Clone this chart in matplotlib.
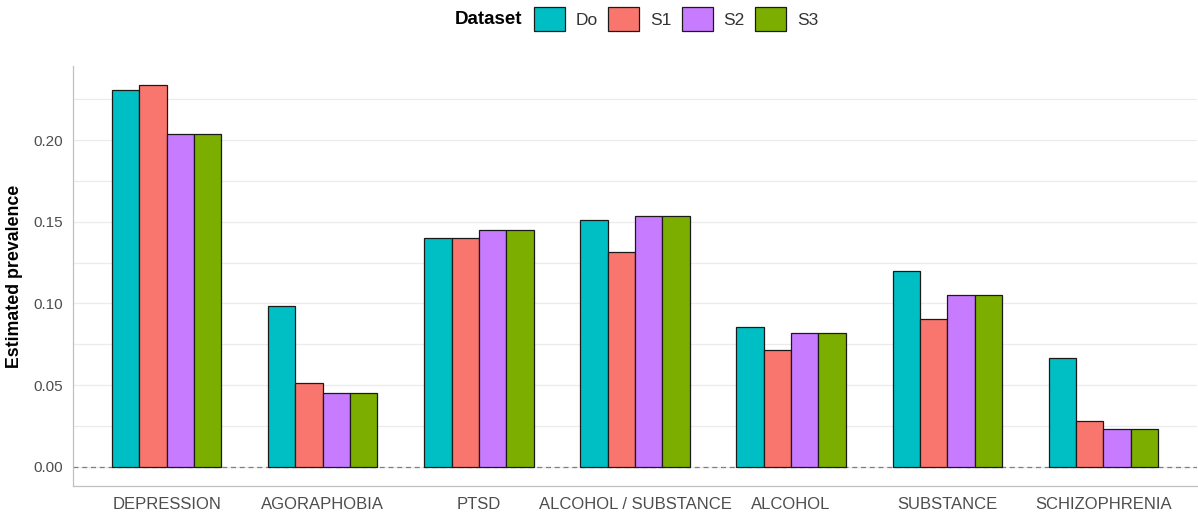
import matplotlib.pyplot as plt
import numpy as np
from matplotlib.patches import Patch

plt.rcParams["font.family"] = ["Liberation Sans", "DejaVu Sans"]

CATEGORIES = ["DEPRESSION", "AGORAPHOBIA", "PTSD", "ALCOHOL / SUBSTANCE",
              "ALCOHOL", "SUBSTANCE", "SCHIZOPHRENIA"]
DATASETS = ["Do", "S1", "S2", "S3"]
DO = [0.2303, 0.0983, 0.1403, 0.1513, 0.0853, 0.1196, 0.0669]
S1 = [0.2336, 0.0515, 0.1403, 0.1315, 0.0716, 0.0902, 0.0281]
S2 = [0.2036, 0.0454, 0.1452, 0.1534, 0.0818, 0.1053, 0.0232]
S3 = [0.2036, 0.0454, 0.1452, 0.1534, 0.0818, 0.1053, 0.0232]
COLORS = ["#00BFC4", "#F8766D", "#C77CFF", "#7CAE00"]

W, H = 1198, 514
fig = plt.figure(figsize=(W / 100, H / 100), dpi=100)
ax = fig.add_axes([73 / W, 28 / H, (1197 - 73) / W, (486 - 66) / H])

x = np.arange(len(CATEGORIES))
bw = 0.175
series = [DO, S1, S2, S3]
for i, (vals, col) in enumerate(zip(series, COLORS)):
    ax.bar(x + (i - 1.5) * bw, vals, width=bw, color=col,
           edgecolor="#1a1a1a", linewidth=0.9, zorder=3)

ax.axhline(0, color="#7f7f7f", linestyle=(0, (4, 3)), linewidth=0.9, zorder=2)

top = max(max(s) for s in series)
ax.set_ylim(-0.05 * top, top * 1.05)
ax.set_xlim(-0.6, len(CATEGORIES) - 0.4)
ax.set_yticks([0, 0.05, 0.10, 0.15, 0.20])
ax.set_yticklabels(["0.00", "0.05", "0.10", "0.15", "0.20"])
ax.set_yticks([0.025, 0.075, 0.125, 0.175, 0.225], minor=True)
ax.set_xticks(x)
ax.set_xticklabels(CATEGORIES, fontsize=12)
ax.grid(axis="y", which="both", color="#ebebeb", linewidth=0.9, zorder=0)
ax.set_axisbelow(True)
ax.tick_params(axis="both", which="both", length=0, labelsize=11,
               labelcolor="#4d4d4d")
ax.tick_params(axis="x", labelsize=12, pad=8)
ax.tick_params(axis="y", pad=7)
for side in ("top", "right"):
    ax.spines[side].set_visible(False)
for side in ("left", "bottom"):
    ax.spines[side].set_color("#c0c0c0")
    ax.spines[side].set_linewidth(0.9)
ax.set_ylabel("Estimated prevalence", fontsize=12.8, fontweight="bold",
              color="black", labelpad=8)

fig.text(455 / W, 1 - 20 / H, "Dataset", fontsize=13.5, fontweight="bold",
         va="center", ha="left")
handles = [Patch(facecolor=c, edgecolor="#1a1a1a", linewidth=0.9)
           for c in COLORS]
fig.legend(handles, DATASETS, loc="center left",
           bbox_to_anchor=(534 / W, 1 - 19 / H), ncol=4, frameon=False,
           fontsize=12.5, handlelength=1.78, handleheight=1.73,
           handletextpad=0.62, columnspacing=0.6, borderpad=0,
           borderaxespad=0, labelcolor="#333333")

fig.savefig("out.png", dpi=100, facecolor="white")
